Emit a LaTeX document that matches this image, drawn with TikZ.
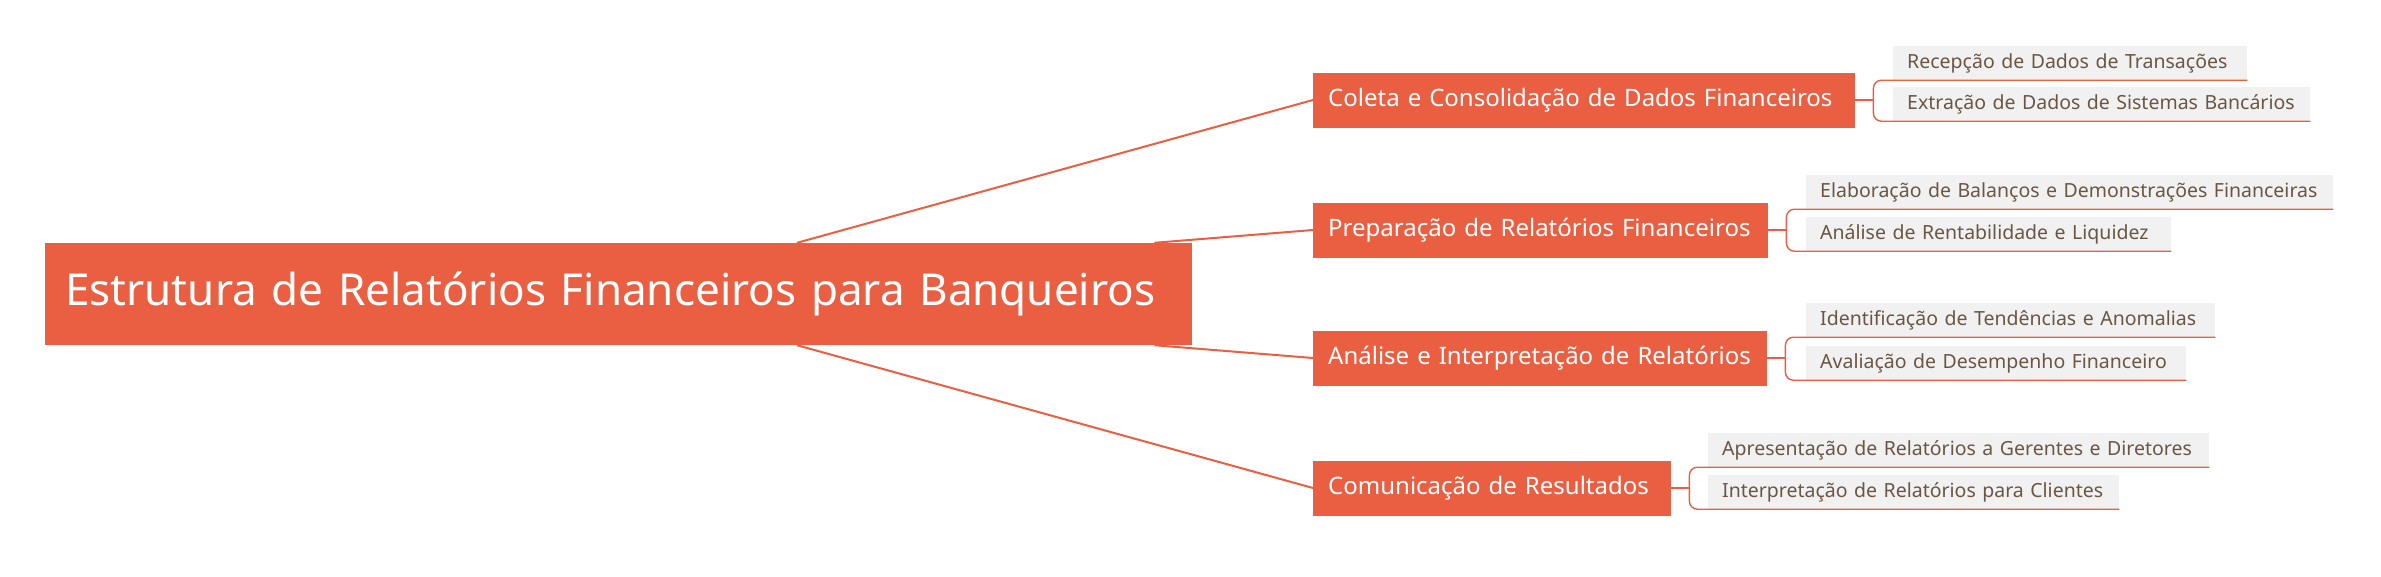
\documentclass[tikz,border=0pt]{standalone}
\usepackage{fontspec}
\setmainfont{Noto Sans}
\definecolor{org}{HTML}{EA5E42}
\definecolor{sub}{HTML}{F1F1F1}
\definecolor{brn}{HTML}{6B5644}
\begin{document}
\begin{tikzpicture}[x=1pt,y=-1pt,
  rootbox/.style={fill=org,text=white,font=\fontsize{44}{50}\selectfont,inner xsep=20pt,inner ysep=0,minimum height=102pt,anchor=west,align=left,text width=#1-40pt},
  l1box/.style={fill=org,text=white,font=\fontsize{24}{28}\selectfont,inner xsep=15pt,inner ysep=0,minimum height=55pt,anchor=west,align=left,text width=#1-30pt},
  l2box/.style={fill=sub,text=brn,font=\fontsize{19.5}{24}\selectfont,inner xsep=14pt,inner ysep=0,minimum height=34pt,anchor=west,align=left,text width=#1-28pt},
  conn/.style={draw=org,line width=2pt},
  sconn/.style={draw=org,line width=1.4pt,rounded corners=8pt}]
\useasboundingbox (0,0) rectangle (2381,576);
\node[rootbox=1147pt] (root) at (45,294) {\mbox{Estrutura de Relatórios Financeiros para Banqueiros}};
\node[l1box=542pt] (a) at (1313,100) {\mbox{Coleta e Consolidação de Dados Financeiros}};
\node[l1box=455pt] (b) at (1313,230) {\mbox{Preparação de Relatórios Financeiros}};
\node[l1box=454pt] (c) at (1313,358) {\mbox{Análise e Interpretação de Relatórios}};
\node[l1box=358pt] (d) at (1313,488) {\mbox{Comunicação de Resultados}};
\node[l2box=354pt] (a1) at (1893,63) {\mbox{Recepção de Dados de Transações}};
\node[l2box=417pt] (a2) at (1893,104) {\mbox{Extração de Dados de Sistemas Bancários}};
\node[l2box=527pt] (b1) at (1806,192) {\mbox{Elaboração de Balanços e Demonstrações Financeiras}};
\node[l2box=365pt] (b2) at (1806,234) {\mbox{Análise de Rentabilidade e Liquidez}};
\node[l2box=409pt] (c1) at (1806,320) {\mbox{Identificação de Tendências e Anomalias}};
\node[l2box=380pt] (c2) at (1806,363) {\mbox{Avaliação de Desempenho Financeiro}};
\node[l2box=501pt] (d1) at (1708,450) {\mbox{Apresentação de Relatórios a Gerentes e Diretores}};
\node[l2box=411pt] (d2) at (1708,492) {\mbox{Interpretação de Relatórios para Clientes}};
\draw[conn] (root.north west)++(752,0) coordinate (ra) -- (a.west);
\draw[conn] (root.north east)++(-38,0) coordinate (rb) -- (b.west);
\draw[conn] (root.south east)++(-38,0) coordinate (rc) -- (c.west);
\draw[conn] (root.south west)++(752,0) coordinate (rd) -- (d.west);
\foreach \p/\q/\r in {a/a1/a2,b/b1/b2,c/c1/c2,d/d1/d2}{
  \draw[sconn] (\p.east) -- ++(18,0) coordinate (m\p);
  \draw[sconn] (m\p) |- (\q.south west) -- (\q.south east);
  \draw[sconn] (m\p) |- (\r.south west) -- (\r.south east);
}
\end{tikzpicture}
\end{document}
